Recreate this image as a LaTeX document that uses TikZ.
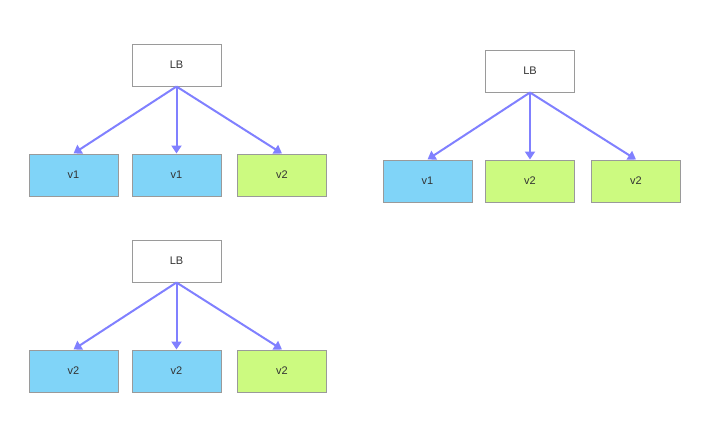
\documentclass[tikz,border=0pt]{standalone}
\usepackage{fontspec}
\setmainfont{Liberation Sans}
\usetikzlibrary{arrows.meta}
\definecolor{boxgray}{HTML}{9A9A9A}
\definecolor{vblue}{HTML}{80D4F8}
\definecolor{vgreen}{HTML}{CCFA80}
\definecolor{arrowblue}{HTML}{8080FF}
\definecolor{txtgray}{HTML}{333333}
\tikzset{
  lbbox/.style={draw=boxgray, line width=1pt, fill=white, minimum width=89pt, minimum height=42pt, inner sep=0pt, text=txtgray, font=\fontsize{11}{13}\selectfont},
  vold/.style={lbbox, fill=vblue},
  vnew/.style={lbbox, fill=vgreen},
  route/.style={-{Triangle[length=8pt, width=10pt]}, draw=arrowblue, line width=2pt}
}
\begin{document}
\begin{tikzpicture}[x=1pt, y=-1pt]
  \useasboundingbox (0,0) rectangle (715,424);
  % first stage
  \node[lbbox] (lbA) at (176.5,65) {LB};
  \node[vold] (a1) at (73.5,175) {v1};
  \node[vold] (a2) at (176.5,175) {v1};
  \node[vnew] (a3) at (282,175) {v2};
  % second stage
  \node[lbbox] (lbB) at (530,71) {LB};
  \node[vold] (b1) at (427.5,181) {v1};
  \node[vnew] (b2) at (530,181) {v2};
  \node[vnew] (b3) at (636,181) {v2};
  % third stage
  \node[lbbox] (lbC) at (176.5,261) {LB};
  \node[vold] (c1) at (73.5,371) {v2};
  \node[vold] (c2) at (176.5,371) {v2};
  \node[vnew] (c3) at (282,371) {v2};
  \foreach \lb/\s in {lbA/a, lbB/b, lbC/c}
    \foreach \i in {1,2,3}
      \draw[route] (\lb.south) -- (\s\i.north);
\end{tikzpicture}
\end{document}
